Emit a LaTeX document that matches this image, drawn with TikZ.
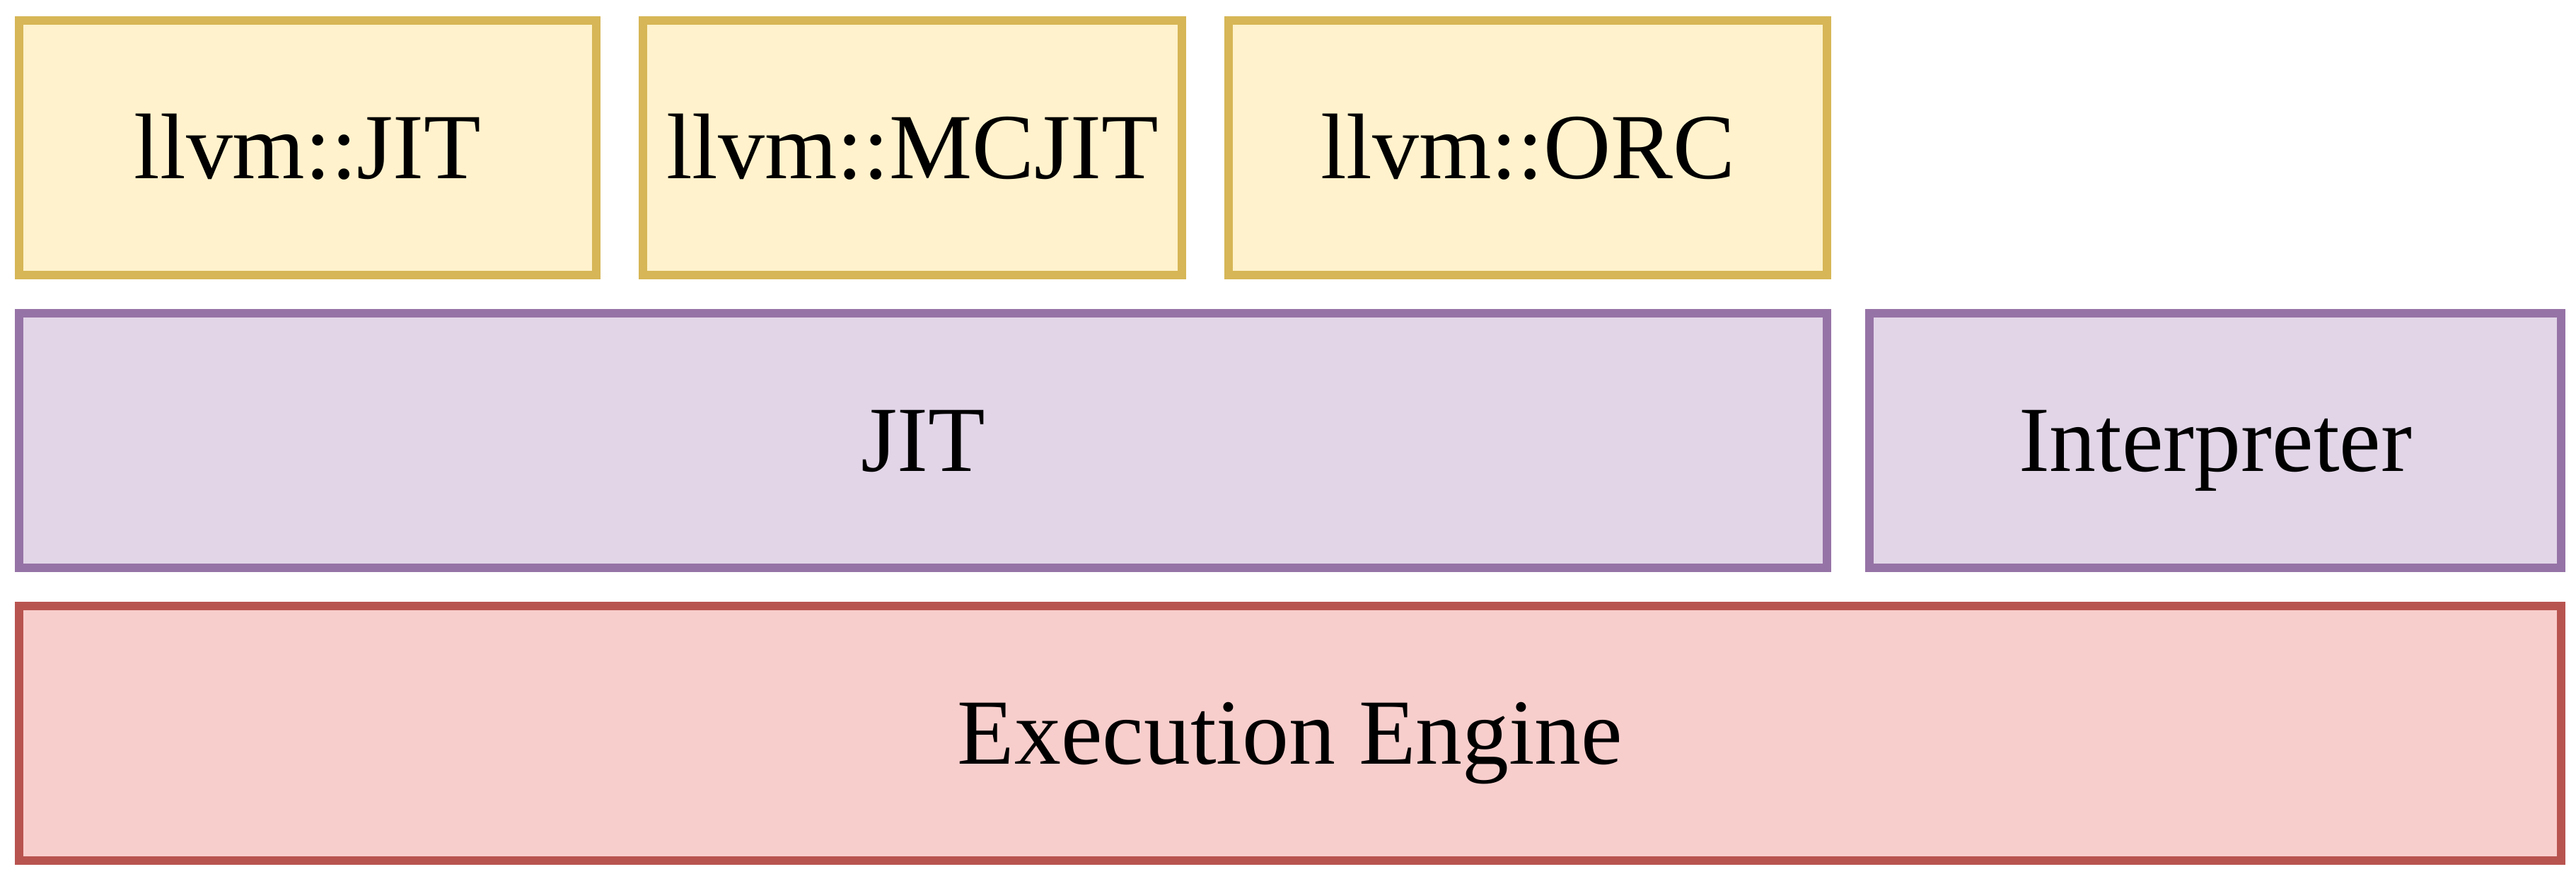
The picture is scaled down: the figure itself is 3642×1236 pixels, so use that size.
\documentclass[tikz,border=0pt]{standalone}
\usepackage{fontspec}
\setmainfont{Liberation Serif}
\definecolor{yfill}{HTML}{FFF2CC}
\definecolor{ydraw}{HTML}{D6B656}
\definecolor{pfill}{HTML}{E1D5E7}
\definecolor{pdraw}{HTML}{9673A6}
\definecolor{rfill}{HTML}{F8CECC}
\definecolor{rdraw}{HTML}{B85450}
\tikzset{
  box/.style={rectangle, inner sep=0pt, outer sep=0pt, line width=0.24cm,
    font=\fontsize{75}{90}\selectfont, text height=49pt, text depth=0pt},
  ybox/.style={box, fill=yfill, draw=ydraw},
  pbox/.style={box, fill=pfill, draw=pdraw},
  rbox/.style={box, fill=rfill, draw=rdraw},
}
\newcommand{\mybox}[7]{% name, style, x1, y1, x2, y2, text
  \node[#2, minimum width={(#5-#3)*0.02cm}, minimum height={(#6-#4)*0.02cm}]
    (#1) at ({(#3+#5)/2},{(#4+#6)/2+2}) {#7};}
\begin{document}
\begin{tikzpicture}[x=0.02cm,y=-0.02cm]
\useasboundingbox (0,0) rectangle (3642,1236);
\mybox{ljit}{ybox}{27}{27}{843}{387}{llvm::JIT}
\mybox{mcjit}{ybox}{909}{27}{1671}{387}{llvm::MCJIT}
\mybox{orc}{ybox}{1737}{27}{2583}{387}{llvm::ORC}
\mybox{jit}{pbox}{27}{441}{2583}{801}{JIT}
\mybox{interp}{pbox}{2643}{441}{3621}{801}{Interpreter}
\mybox{ee}{rbox}{27}{855}{3621}{1215}{Execution Engine}
\end{tikzpicture}
\end{document}
